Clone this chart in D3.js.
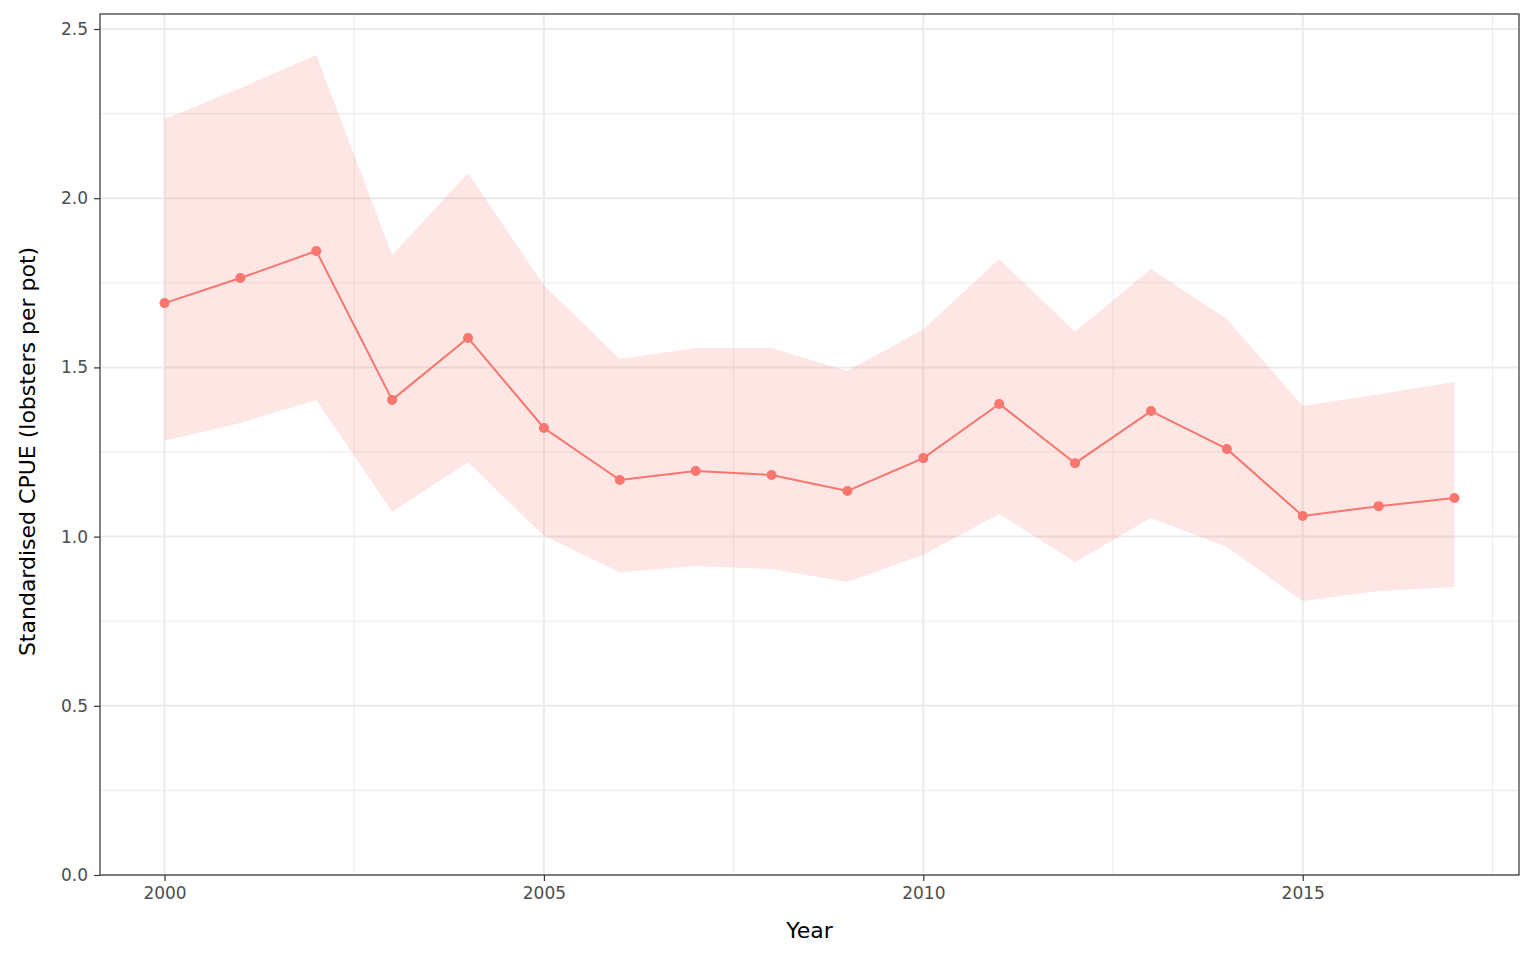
<!DOCTYPE html>
<html>
<head>
<meta charset="utf-8">
<script src="https://cdn.jsdelivr.net/npm/d3@7"></script>
<style>
  body { margin: 0; background: #fff; font-family: "DejaVu Sans", sans-serif; }
</style>
</head>
<body>
<div id="chart"></div>
<script>
const years = [2000, 2001, 2002, 2003, 2004, 2005, 2006, 2007, 2008, 2009, 2010, 2011, 2012, 2013, 2014, 2015, 2016, 2017];
const cpue  = [1.690, 1.764, 1.844, 1.404, 1.587, 1.321, 1.167, 1.194, 1.182, 1.135, 1.232, 1.392, 1.217, 1.371, 1.259, 1.061, 1.090, 1.114];
const upper = [2.234, 2.326, 2.423, 1.832, 2.074, 1.743, 1.525, 1.557, 1.557, 1.489, 1.613, 1.820, 1.605, 1.791, 1.643, 1.386, 1.421, 1.457];
const lower = [1.283, 1.336, 1.404, 1.073, 1.220, 1.002, 0.895, 0.913, 0.904, 0.866, 0.946, 1.067, 0.925, 1.055, 0.969, 0.810, 0.839, 0.851];
const xTicks = [2000, 2005, 2010, 2015];
const yTicks = [0, 0.5, 1.0, 1.5, 2.0, 2.5];

const W = 1536, H = 960;
const margin = {top: 14, right: 17, bottom: 85, left: 100};
const width = W - margin.left - margin.right;
const height = H - margin.top - margin.bottom;

const svg = d3.select("#chart").append("svg")
    .attr("width", W).attr("height", H);
const g = svg.append("g").attr("transform", `translate(${margin.left},${margin.top})`);

const x = d3.scaleLinear().domain([2000 - 0.85, 2017 + 0.85]).range([0, width]);
const y = d3.scaleLinear().domain([0, 2.5]).range([height - 0, 15]);
// y: 0 at bottom, 2.5 at 15px below top
y.range([height, 15]);

// minor grid
const xMinor = [2002.5, 2007.5, 2012.5, 2017.5];
const yMinor = [0.25, 0.75, 1.25, 1.75, 2.25];
g.selectAll(".xminor").data(xMinor).enter().append("line")
    .attr("x1", d => x(d)).attr("x2", d => x(d)).attr("y1", 0).attr("y2", height)
    .attr("stroke", "#ebebeb").attr("stroke-width", 1);
g.selectAll(".yminor").data(yMinor).enter().append("line")
    .attr("y1", d => y(d)).attr("y2", d => y(d)).attr("x1", 0).attr("x2", width)
    .attr("stroke", "#ebebeb").attr("stroke-width", 1);
// major grid
g.selectAll(".xmajor").data(xTicks).enter().append("line")
    .attr("x1", d => x(d)).attr("x2", d => x(d)).attr("y1", 0).attr("y2", height)
    .attr("stroke", "#ebebeb").attr("stroke-width", 2);
g.selectAll(".ymajor").data(yTicks).enter().append("line")
    .attr("y1", d => y(d)).attr("y2", d => y(d)).attr("x1", 0).attr("x2", width)
    .attr("stroke", "#ebebeb").attr("stroke-width", 2);

const rows = years.map((yr, i) => ({yr, m: cpue[i], lo: lower[i], hi: upper[i]}));

// ribbon
g.append("path").datum(rows)
    .attr("d", d3.area().x(d => x(d.yr)).y0(d => y(d.lo)).y1(d => y(d.hi)))
    .attr("fill", "#F8766D").attr("fill-opacity", 0.18);

// line
g.append("path").datum(rows)
    .attr("d", d3.line().x(d => x(d.yr)).y(d => y(d.m)))
    .attr("fill", "none").attr("stroke", "#F8766D").attr("stroke-width", 2);

g.selectAll(".pt").data(rows).enter().append("circle")
    .attr("cx", d => x(d.yr)).attr("cy", d => y(d.m)).attr("r", 5)
    .attr("fill", "#F8766D");

// panel border
g.append("rect").attr("width", width).attr("height", height)
    .attr("fill", "none").attr("stroke", "#333").attr("stroke-width", 1.2);

// axes
const xAxis = g.append("g").attr("transform", `translate(0,${height})`)
    .call(d3.axisBottom(x).tickValues(xTicks).tickFormat(d3.format("d")).tickSize(6).tickPadding(6));
const yAxis = g.append("g")
    .call(d3.axisLeft(y).tickValues(yTicks).tickFormat(d3.format(".1f")).tickSize(6).tickPadding(6));
[xAxis, yAxis].forEach(a => {
  a.select(".domain").remove();
  a.selectAll("line").attr("stroke", "#333").attr("stroke-width", 1.2);
  a.selectAll("text").attr("fill", "#4d4d4d").style("font-size", "17px")
    .style("font-family", "DejaVu Sans, sans-serif");
});

svg.append("text").attr("x", margin.left + width / 2).attr("y", 938)
    .attr("text-anchor", "middle").style("font-size", "22px").text("Year");
svg.append("text").attr("transform", `translate(35,${margin.top + height / 2 + 7}) rotate(-90)`)
    .attr("text-anchor", "middle").style("font-size", "22px")
    .text("Standardised CPUE (lobsters per pot)");
</script>
</body>
</html>
